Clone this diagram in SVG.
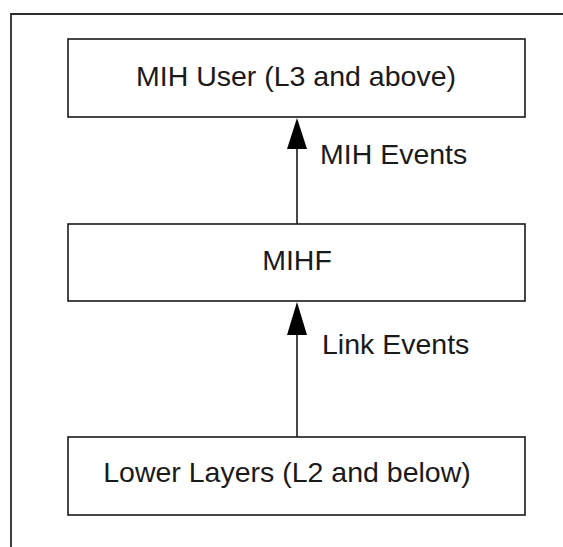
<svg xmlns="http://www.w3.org/2000/svg" width="563" height="547" viewBox="0 0 563 547">
  <style>
    .box { fill: #ffffff; stroke: #1a1a1a; stroke-width: 1.6; }
    .frame { fill: none; stroke: #2a2a2a; stroke-width: 1.8; }
    .lbl { font-family: "Liberation Sans", Arial, sans-serif; font-size: 28.5px; fill: #1a1a1a; }
    .mid { text-anchor: middle; }
    .wire { stroke: #1a1a1a; stroke-width: 1.6; fill: none; }
    .head { fill: #000000; }
  </style>
  <rect width="563" height="547" fill="#ffffff"/>

  <!-- outer frame (left and top edges only) -->
  <path class="frame" d="M11,547 V14 H563"/>

  <g id="mih-user">
    <rect class="box" x="68" y="39" width="457" height="78"/>
    <text class="lbl mid" x="296" y="86">MIH User (L3 and above)</text>
  </g>

  <g id="mihf">
    <rect class="box" x="68" y="224" width="457" height="77"/>
    <text class="lbl mid" x="297" y="270">MIHF</text>
  </g>

  <g id="lower-layers">
    <rect class="box" x="68" y="437" width="457" height="78"/>
    <text class="lbl mid" x="287" y="482">Lower Layers (L2 and below)</text>
  </g>

  <g id="connectors">
    <!-- MIHF to MIH User -->
    <line class="wire" x1="297" y1="224" x2="297" y2="148"/>
    <polygon class="head" points="297,118 287,149 307,149"/>
    <text class="lbl" x="320" y="164">MIH Events</text>
    <!-- Lower Layers to MIHF -->
    <line class="wire" x1="297" y1="437" x2="297" y2="334"/>
    <polygon class="head" points="297,302 287,335 307,335"/>
    <text class="lbl" x="322" y="354">Link Events</text>
  </g>
</svg>
